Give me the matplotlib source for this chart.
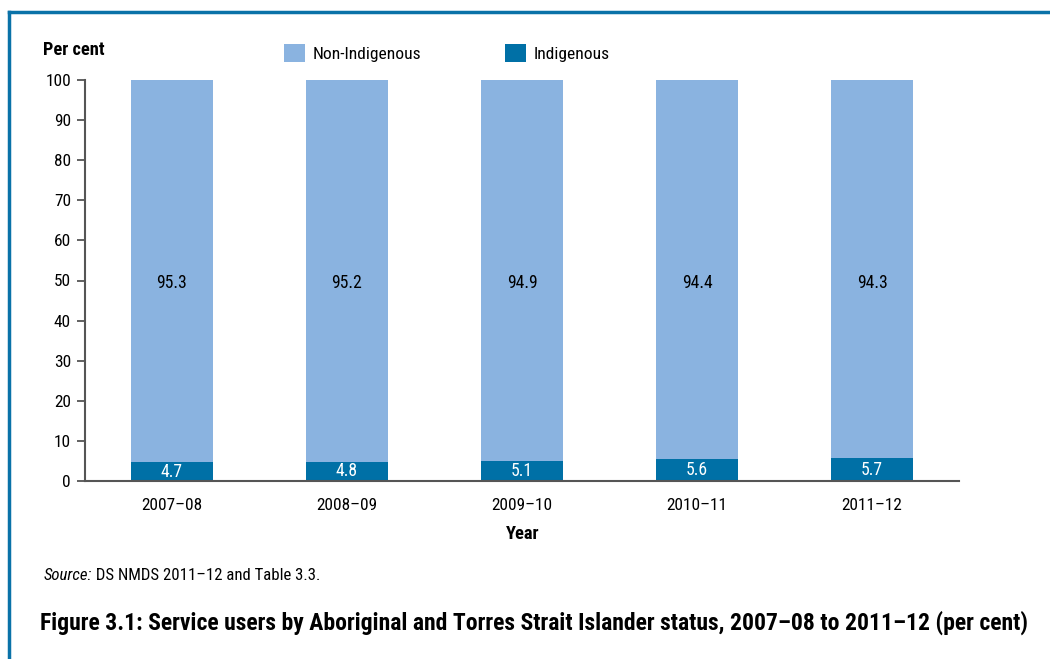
import matplotlib
matplotlib.use("Agg")
import matplotlib.pyplot as plt
from matplotlib import font_manager as fm
from matplotlib.patches import Patch
from matplotlib.lines import Line2D

# pick a condensed font if available
FAM = ['DejaVu Sans']
STRETCH = 'normal'
names = {f.name for f in fm.fontManager.ttflist}
for cand in ['Liberation Sans Narrow', 'Roboto Condensed', 'Open Sans Condensed', 'Noto Sans Condensed']:
    if cand in names:
        FAM = [cand, 'DejaVu Sans']
        break
else:
    condensed = [f for f in fm.fontManager.ttflist if 'ondensed' in f.fname and 'DejaVuSans' in f.fname]
    if condensed:
        STRETCH = 'condensed'
        FAM = ['DejaVu Sans']
    else:
        FAM = ['Liberation Sans', 'DejaVu Sans']
plt.rcParams['font.family'] = FAM
plt.rcParams['font.stretch'] = STRETCH

years = ['2007\u201308', '2008\u201309', '2009\u201310', '2010\u201311', '2011\u201312']
indigenous = [4.7, 4.8, 5.1, 5.6, 5.7]
non_indigenous = [95.3, 95.2, 94.9, 94.4, 94.3]

LIGHT = '#8ab3e0'
DARK = '#0070a6'
BORDER = '#0a72a8'

fig = plt.figure(figsize=(10.5, 6.59), dpi=100)
renderer = fig.canvas.get_renderer()


def size_for(s, target_px, weight='normal', style='normal', base=14):
    t = fig.text(0, 0, s, fontsize=base, fontweight=weight, style=style, fontstretch=STRETCH)
    w = t.get_window_extent(renderer).width
    t.remove()
    return base * target_px / w


ax = fig.add_axes([85/1050, 1-481/659, (959-85)/1050, (481-80)/659])

x = list(range(len(years)))
w = 0.474
ax.bar(x, indigenous, width=w, color=DARK, zorder=2)
ax.bar(x, non_indigenous, width=w, bottom=indigenous, color=LIGHT, zorder=2)

fs_val = size_for('95.3', 31)
for xi, a, b in zip(x, indigenous, non_indigenous):
    ax.text(xi, a / 2, f'{a:.1f}', ha='center', va='center', color='white', fontsize=fs_val, zorder=3)
    ax.text(xi, (a + b) / 2 - 0.5, f'{b:.1f}', ha='center', va='center', color='black', fontsize=fs_val, zorder=3)

fs_tick = size_for('2007\u201308', 61)
ax.set_xlim(-0.497, 4.497)
ax.set_ylim(0, 100)
ax.set_yticks(range(0, 101, 10))
ax.set_xticks(x)
ax.set_xticklabels(years)
ax.tick_params(axis='y', length=6, width=1.3, color='#555555', labelsize=fs_tick, pad=4)
ax.tick_params(axis='x', length=0, labelsize=fs_tick, pad=12)
for s in ['top', 'right']:
    ax.spines[s].set_visible(False)
for s in ['left', 'bottom']:
    ax.spines[s].set_color('#555555')
    ax.spines[s].set_linewidth(1.5)

fig.text(523/1050, 1-534/659, 'Year', ha='center', va='center',
         fontsize=size_for('Year', 34, weight='bold'), fontweight='bold')
fig.text(43/1050, 1-50/659, 'Per cent', ha='left', va='center',
         fontsize=size_for('Per cent', 62, weight='bold'), fontweight='bold')

# legend
fs_leg = size_for('Non-Indigenous', 109)
px = fs_leg * 100 / 72
handles = [Patch(facecolor=LIGHT, edgecolor='none'), Patch(facecolor=DARK, edgecolor='none')]
leg = fig.legend(handles, ['Non-Indigenous', 'Indigenous'], loc='center left',
                 bbox_to_anchor=(284/1050, 1-53/659), ncol=2, frameon=False,
                 fontsize=fs_leg, handlelength=21/px, handleheight=21/px,
                 handletextpad=8/px, columnspacing=83/px, borderpad=0, borderaxespad=0)

fs_src = size_for('Source: DS NMDS 2011\u201312 and Table 3.3.', 279)
t1 = fig.text(44/1050, 1-576/659, 'Source:', ha='left', va='center', fontsize=fs_src, style='italic')
ax.annotate(' DS NMDS 2011\u201312 and Table 3.3.', xy=(1, 0), xycoords=t1, ha='left', va='bottom',
            fontsize=fs_src, annotation_clip=False)

title = 'Figure 3.1: Service users by Aboriginal and Torres Strait Islander status, 2007\u201308 to 2011\u201312 (per cent)'
fig.text(40/1050, 1-623/659, title, ha='left', va='center',
         fontsize=size_for(title, 990, weight='bold'), fontweight='bold')

# frame border (left + top)
fig.add_artist(Line2D([9/1050, 9/1050], [0, 1-12/659], transform=fig.transFigure, color=BORDER, lw=2.5))
fig.add_artist(Line2D([9/1050, 1], [1-12/659, 1-12/659], transform=fig.transFigure, color=BORDER, lw=2.5))

fig.savefig('out.png', dpi=100)
